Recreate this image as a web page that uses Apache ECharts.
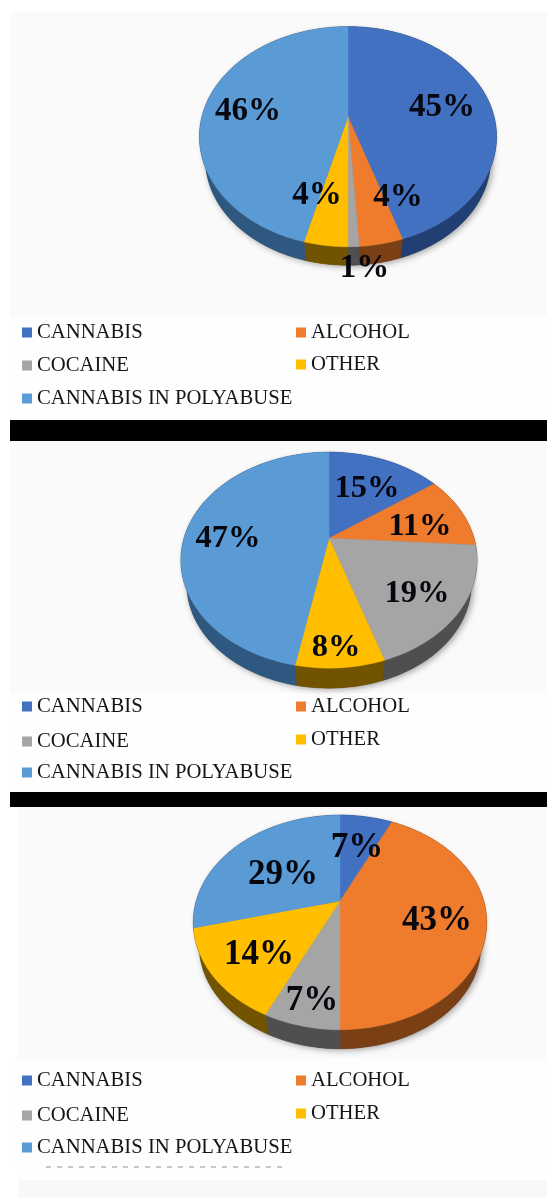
<!DOCTYPE html>
<html>
<head>
<meta charset="utf-8">
<style>html,body{margin:0;padding:0;background:#fff}#c{width:547px;height:1198px}</style>
<script src="https://cdn.jsdelivr.net/npm/echarts@6/dist/echarts.min.js"></script>
</head>
<body>
<div id="c"></div>
<script>
const categories = ['CANNABIS', 'ALCOHOL', 'COCAINE', 'OTHER', 'CANNABIS IN POLYABUSE'];
const valuesTop = [45, 4, 1, 4, 46];
const valuesMiddle = [15, 11, 19, 8, 47];
const valuesBottom = [7, 43, 7, 14, 29];
const faceColors = ['#4271c2', '#ef7b2d', '#a5a5a5', '#ffbe00', '#5b9bd5'];
const sideColors = ['#223f73', '#7a3f14', '#4f4f4f', '#725400', '#2f5880'];

// layout only: projected-disc geometry, label nudges and legend rows for each panel
const panels = [
  { values: valuesTop, cx: 348, cy: 116.7, a: 106.4, b: 146, k: 0.182, d: 18.5, font: 33,
    labels: [[94, -12], [50, 78], [16.5, 149], [-31, 76], [-100, -8]],
    rows: [332, 332, 365, 364, 398] },
  { values: valuesMiddle, cx: 329, cy: 538.3, a: 103.5, b: 145, k: 0.203, d: 20, font: 32.5,
    labels: [[38, -53], [91, -15], [88, 52], [7, 106], [-101, -3]],
    rows: [706, 706, 741, 739, 772] },
  { values: valuesBottom, cx: 340, cy: 901, a: 103, b: 143.7, k: 0.2, d: 19, font: 35,
    labels: [[17, -56], [97, 17], [-28, 97], [-81, 51], [-57, -29]],
    rows: [1080, 1080, 1115, 1113, 1147] }
];
const legendX = [22, 296, 22, 296, 22];
const labelDrop = 3;
const lowerRimScale = 0.96;

function rim(p, theta) {
  const u = Math.sin(theta), v = Math.cos(theta), w = 1 + p.k * v;
  return [p.cx + p.b * u / w, p.cy - p.a * v / w];
}
function lowerRim(p, theta) {
  const pt = rim(p, theta);
  const up = p.a / (1 + p.k), down = p.a / (1 - p.k);
  const midY = p.cy + (down - up) / 2, halfH = (down + up) / 2;
  return [
    p.cx + (pt[0] - p.cx) * lowerRimScale,
    midY + (pt[1] - midY) * lowerRimScale + p.d + (1 - lowerRimScale) * halfH
  ];
}
function arc(fn, p, t0, t1) {
  const n = Math.max(2, Math.ceil((t1 - t0) / 0.03)), pts = [];
  for (let i = 0; i <= n; i++) pts.push(fn(p, t0 + (t1 - t0) * i / n));
  return pts;
}
function sliceRenderer(p, idx) {
  const total = p.values.reduce((s, x) => s + x, 0);
  const before = p.values.slice(0, idx).reduce((s, x) => s + x, 0);
  return function (params, api) {
    const val = api.value(0);
    const t0 = before / total * 2 * Math.PI;
    const t1 = (before + val) / total * 2 * Math.PI;
    const top = arc(rim, p, t0, t1);
    const bottom = arc(lowerRim, p, t0, t1).reverse();
    const children = [];
    if (idx === 0) {
      children.push({
        type: 'polygon', z2: 0,
        shape: { points: arc(lowerRim, p, 0, 2 * Math.PI) },
        style: { fill: '#555', shadowBlur: 7, shadowColor: 'rgba(0,0,0,0.4)', shadowOffsetX: 2, shadowOffsetY: 1 }
      });
      children.push({
        type: 'polygon', z2: 0,
        shape: { points: arc(rim, p, 0, 2 * Math.PI) },
        style: { fill: '#777', shadowBlur: 3, shadowColor: 'rgba(120,110,90,0.35)' }
      });
    }
    children.push({
      type: 'polygon', z2: 1,
      shape: { points: top.concat(bottom) },
      style: { fill: sideColors[idx], stroke: sideColors[idx], lineWidth: 0.5 }
    });
    children.push({
      type: 'polygon', z2: 2,
      shape: { points: [[p.cx, p.cy]].concat(top) },
      style: { fill: faceColors[idx], stroke: faceColors[idx], lineWidth: 0.4 }
    });
    children.push({
      type: 'text', z2: 3,
      style: {
        text: val + '%',
        x: p.cx + p.labels[idx][0], y: p.cy + p.labels[idx][1] + labelDrop,
        align: 'center', verticalAlign: 'middle',
        font: 'bold ' + p.font + 'px "Liberation Serif", serif',
        fill: '#070710'
      }
    });
    return { type: 'group', children: children };
  };
}

const series = [], legends = [];
panels.forEach(function (p) {
  categories.forEach(function (name, idx) {
    series.push({
      type: 'custom', name: name, coordinateSystem: 'none',
      itemStyle: { color: faceColors[idx] },
      data: [[p.values[idx]]],
      renderItem: sliceRenderer(p, idx),
      silent: true, animation: false
    });
    legends.push({
      data: [name], left: legendX[idx], top: p.rows[idx] - 10,
      padding: 0, icon: 'rect', itemWidth: 10, itemHeight: 10,
      selectedMode: false,
      textStyle: { fontFamily: '"Liberation Serif", serif', fontSize: 20.7, color: '#151515', lineHeight: 20 }
    });
  });
});

function band(x, y, w, h, fill) {
  return { type: 'rect', shape: { x: x, y: y, width: w, height: h }, style: { fill: fill }, silent: true };
}
const backgrounds = [
  band(10, 12, 537, 304, '#fafafa'),
  band(10, 316, 537, 104, '#fefefe'),
  band(10, 420, 537, 21, '#000000'),
  band(10, 441, 537, 252, '#fafafa'),
  band(10, 693, 537, 99, '#fefefe'),
  band(10, 792, 537, 15, '#000000'),
  band(18, 807, 529, 252, '#fafafa'),
  band(10, 1059, 537, 106, '#fefefe'),
  band(18, 1165, 529, 15, '#fefefe'),
  band(18, 1180, 529, 18, '#f8f8f8'),
  { type: 'line', shape: { x1: 46, y1: 1167, x2: 283, y2: 1167 },
    style: { stroke: '#b5b5b5', lineWidth: 1.5, lineDash: [5, 6] }, silent: true }
];

const chart = echarts.init(document.getElementById('c'), null, { renderer: 'canvas' });
chart.setOption({
  animation: false,
  backgroundColor: '#ffffff',
  tooltip: { show: false },
  legend: legends,
  graphic: { elements: backgrounds },
  series: series
});
</script>
</body>
</html>
